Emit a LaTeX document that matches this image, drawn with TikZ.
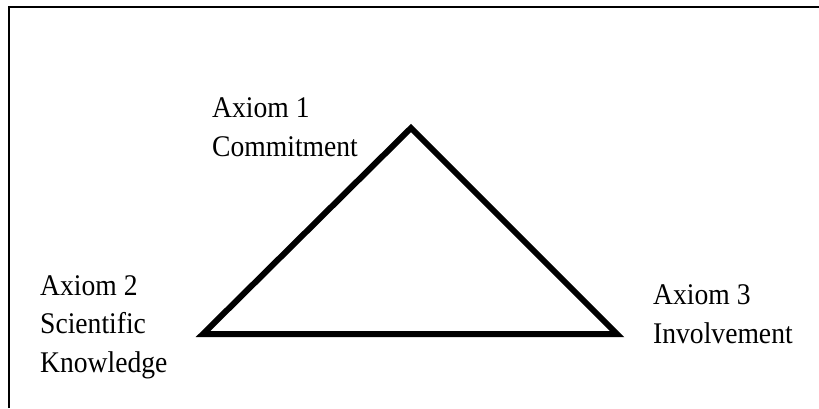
\documentclass[tikz,border=0pt]{standalone}
\usepackage{fontspec}
\setmainfont{Liberation Serif}[FakeStretch=0.92]
\usetikzlibrary{positioning}
\tikzset{
frameline/.style={draw=black,line width=2.5pt},
triline/.style={draw=black,line width=6pt,line join=miter},
axiomlabel/.style={font=\fontsize{30}{38.5}\selectfont,align=left,inner sep=0pt,anchor=base west}
}
\begin{document}
\begin{tikzpicture}[x=1pt,y=-1pt]
\useasboundingbox (0,0) rectangle (819,408);
\draw[frameline] (9,408) -- (9,7) -- (819,7);
\coordinate (apex) at (411,128);
\coordinate (leftc) at (203,334);
\coordinate (rightc) at (617,334);
\draw[triline] (leftc) -- (apex) -- (rightc) -- cycle;
% anchors sit on the last baseline of each label
\node[axiomlabel] (ax1) at (212,156) {Axiom 1\\Commitment};
\node[axiomlabel] (ax2) at (40,372) {Axiom 2\\Scientific\\Knowledge};
\node[axiomlabel] (ax3) at (653,343) {Axiom 3\\Involvement};
\end{tikzpicture}
\end{document}
